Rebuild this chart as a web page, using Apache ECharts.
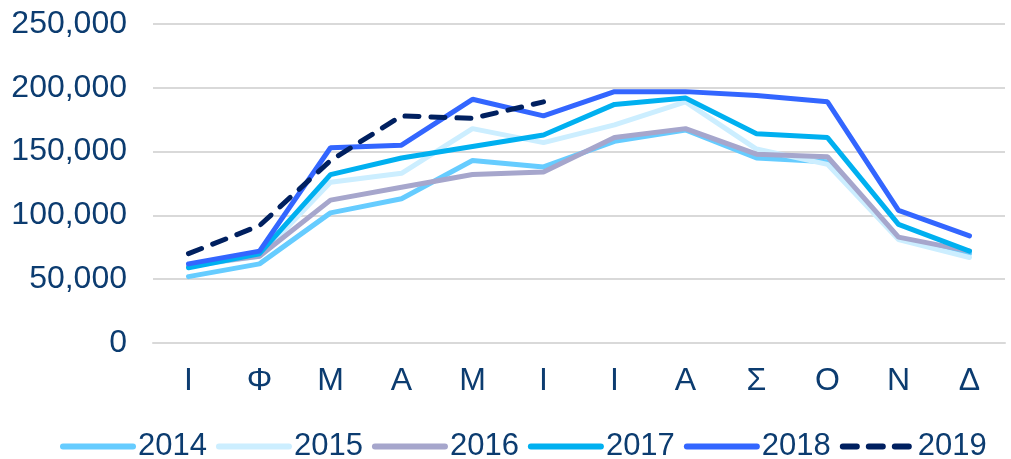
<!DOCTYPE html>
<html>
<head>
<meta charset="utf-8">
<script src="https://cdn.jsdelivr.net/npm/echarts@6/dist/echarts.min.js"></script>
<style>
  html, body { margin: 0; padding: 0; background: #fff; }
  #chart { width: 1011px; height: 459px; }
</style>
</head>
<body>
<div id="chart"></div>
<script>
// μήνες
var months = ['Ι', 'Φ', 'Μ', 'Α', 'Μ', 'Ι', 'Ι', 'Α', 'Σ', 'Ο', 'Ν', 'Δ']
var y2014 = [52000, 62000, 102000, 113000, 143000, 138000, 158000, 167000, 145000, 142000, 82000, 70000]
var y2015 = [60000, 68000, 126000, 133000, 168000, 157000, 171000, 189000, 152000, 140000, 81000, 67000]
var y2016 = [61000, 68000, 112000, 122000, 132000, 134000, 161000, 168000, 148000, 146000, 83000, 72000]
var y2017 = [59000, 70000, 132000, 145000, 154000, 163000, 187000, 192000, 164000, 161000, 93000, 72000]
var y2018 = [62000, 72000, 153000, 155000, 191000, 178000, 197000, 197000, 194000, 189000, 104000, 84000]
var y2019 = [70000, 92000, 143000, 178000, 176000, 189000]

var textColor = '#0c3c70'
var font = 'Liberation Sans, Arial, sans-serif'

function line(name, data, color, dashed) {
  return {
    name: name,
    type: 'line',
    data: data,
    symbol: 'none',
    animation: false,
    itemStyle: { color: color },
    lineStyle: { color: color, width: 5, type: dashed ? [14, 12] : 'solid', cap: 'round' },
  }
}

var chart = echarts.init(document.getElementById('chart'))
chart.setOption({
  textStyle: { fontFamily: font },
  grid: { left: 153, right: 6, top: 24, bottom: 116 },
  legend: {
    top: 426,
    left: 55,
    itemWidth: 70,
    itemHeight: 14,
    itemGap: 9,
    itemStyle: { opacity: 0 },
    lineStyle: { width: 6, cap: 'round' },
    textStyle: { color: textColor, fontSize: 31, fontFamily: font },
    data: ['2014', '2015', '2016', '2017', '2018', '2019'],
  },
  xAxis: {
    type: 'category',
    data: months,
    boundaryGap: true,
    axisLine: { lineStyle: { color: '#d9d9d9', width: 2 } },
    axisTick: { show: false },
    axisLabel: { color: textColor, fontSize: 32, margin: 22, interval: 0 },
  },
  yAxis: {
    type: 'value',
    min: 0,
    max: 250000,
    interval: 50000,
    axisLine: { show: false },
    axisTick: { show: false },
    splitLine: { lineStyle: { color: '#d9d9d9', width: 2 } },
    axisLabel: {
      color: textColor,
      fontSize: 32,
      margin: 26,
      formatter: function (v) { return v.toLocaleString('en-US') },
    },
  },
  series: [
    line('2014', y2014, '#66ccff'),
    line('2015', y2015, '#cceeff'),
    line('2016', y2016, '#a6a6cc'),
    line('2017', y2017, '#00b0f0'),
    line('2018', y2018, '#3366ff'),
    line('2019', y2019, '#002060', true),
  ],
})
</script>
</body>
</html>
